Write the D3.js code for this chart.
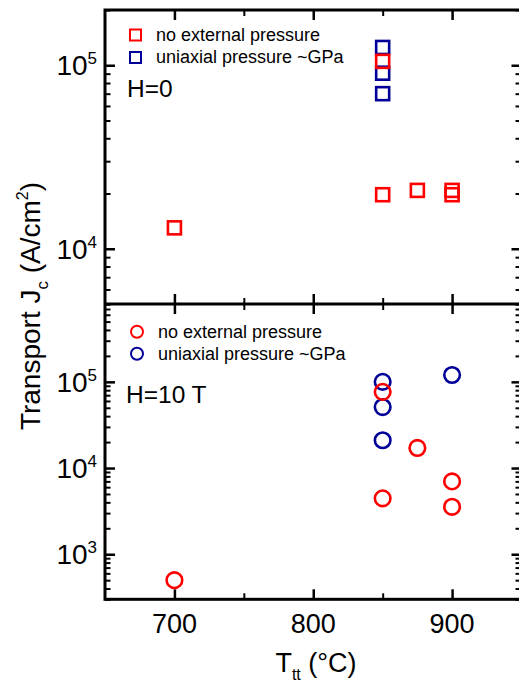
<!DOCTYPE html>
<html>
<head>
<meta charset="utf-8">
<script src="https://cdn.jsdelivr.net/npm/d3@7"></script>
<style>
  body { margin: 0; background: #fff; }
  svg { display: block; font-family: "Liberation Sans", Arial, sans-serif; }
</style>
</head>
<body>
<svg id="chart" width="519" height="684"></svg>
<script>
// annealing temperature (°C) and transport Jc (A/cm^2)
const zeroFieldNoPressT = [700, 850, 850, 875, 900, 900];
const zeroFieldNoPressJ = [13000, 19700, 105000, 20800, 20800, 19700];
const zeroFieldPressT = [850, 850, 850];
const zeroFieldPressJ = [125000, 90500, 70000];

const highFieldNoPressT = [700, 850, 850, 875, 900, 900];
const highFieldNoPressJ = [500, 76600, 4450, 17100, 7000, 3550];
const highFieldPressT = [850, 850, 850, 900];
const highFieldPressJ = [100000, 51000, 21000, 120000];

const xTickLabels = [700, 800, 900];
const xMinorTicks = [750, 850];
const legendLabels = ['no external pressure', 'uniaxial pressure ~GPa'];
const fieldLabels = ['H=0', 'H=10 T'];

const red = '#ff0000', blue = '#000099';
const pLeft = 105, pRight = 521.5, pTop = 10, pMid = 304, pBottom = 599.3;

const svg = d3.select('#chart');

const xScale = d3.scaleLinear().domain([650, 950]).range([pLeft, pRight]);
const yTop = d3.scaleLog().domain([5000, 200000]).range([pMid, pTop]);
const yBot = d3.scaleLog().domain([300, 800000]).range([pBottom, pMid]);

const isPow10 = d => Math.abs(Math.log10(d) - Math.round(Math.log10(d))) < 1e-9;

function tickGroup(axis, scale, values, size, tx, ty, sw) {
  const g = svg.append('g')
    .attr('transform', `translate(${tx},${ty})`)
    .call(axis(scale).tickValues(values).tickSize(size).tickFormat(''));
  g.select('.domain').remove();
  g.selectAll('.tick line').attr('stroke', '#000').attr('stroke-width', sw);
  g.selectAll('.tick text').remove();
}

// y ticks, both panels, left side pointing in and right side pointing in
[yTop, yBot].forEach(y => {
  const all = y.ticks();
  const major = all.filter(isPow10);
  const minor = all.filter(d => !isPow10(d));
  tickGroup(d3.axisRight, y, major, 10, pLeft, 0, 2.5);
  tickGroup(d3.axisRight, y, minor, 5.5, pLeft, 0, 2);
  tickGroup(d3.axisLeft, y, major, 10, pRight, 0, 2.5);
  tickGroup(d3.axisLeft, y, minor, 6, pRight, 0, 2);
});

// x ticks: top border down, divider both ways, bottom border up
tickGroup(d3.axisBottom, xScale, xTickLabels, 10, 0, pTop, 2.5);
tickGroup(d3.axisBottom, xScale, xMinorTicks, 6, 0, pTop, 2);
tickGroup(d3.axisBottom, xScale, xTickLabels, 10, 0, pMid, 2.5);
tickGroup(d3.axisBottom, xScale, xMinorTicks, 6, 0, pMid, 2);
tickGroup(d3.axisTop, xScale, xTickLabels, 10, 0, pMid, 2.5);
tickGroup(d3.axisTop, xScale, xMinorTicks, 6, 0, pMid, 2);
tickGroup(d3.axisTop, xScale, xTickLabels, 10, 0, pBottom, 2.5);
tickGroup(d3.axisTop, xScale, xMinorTicks, 6, 0, pBottom, 2);

// frame
svg.append('rect')
  .attr('x', pLeft).attr('y', pTop)
  .attr('width', pRight - pLeft).attr('height', pBottom - pTop)
  .attr('fill', 'none').attr('stroke', '#000').attr('stroke-width', 3);
svg.append('line')
  .attr('x1', pLeft).attr('x2', pRight).attr('y1', pMid).attr('y2', pMid)
  .attr('stroke', '#000').attr('stroke-width', 3);

// y tick labels 10^n
[[yTop, [10000, 100000]], [yBot, [1000, 10000, 100000]]].forEach(([y, vals]) => {
  vals.forEach(v => {
    const t = svg.append('text')
      .attr('x', 97).attr('y', y(v) + 10)
      .attr('text-anchor', 'end')
      .attr('font-size', 28);
    t.append('tspan').text('10');
    t.append('tspan').attr('font-size', 17).attr('dy', -11).text(Math.round(Math.log10(v)));
  });
});

// x tick labels
svg.selectAll('.xlab')
  .data(xTickLabels)
  .join('text')
    .attr('x', d => xScale(d))
    .attr('y', 633)
    .attr('text-anchor', 'middle')
    .attr('font-size', 27)
    .text(d => d);

// axis titles
const xt = svg.append('text')
  .attr('x', 316).attr('y', 671.5)
  .attr('text-anchor', 'middle')
  .attr('font-size', 27);
xt.append('tspan').text('T');
xt.append('tspan').attr('font-size', 16).attr('dy', 8).text('tt');
xt.append('tspan').attr('dy', -8).text(' (°C)');

const yt = svg.append('text')
  .attr('transform', 'translate(40,306) rotate(-90)')
  .attr('text-anchor', 'middle')
  .attr('font-size', 28);
yt.append('tspan').text('Transport J');
yt.append('tspan').attr('font-size', 17).attr('dy', 8).text('c');
yt.append('tspan').attr('dy', -8).text(' (A/cm');
yt.append('tspan').attr('font-size', 16).attr('dy', -12).text('2');
yt.append('tspan').attr('dy', 12).text(')');

// markers
const sq = 13;
function squares(xs, ys, color) {
  svg.append('g').selectAll('rect')
    .data(xs.map((t, i) => [t, ys[i]]))
    .join('rect')
      .attr('x', d => xScale(d[0]) - sq / 2)
      .attr('y', d => yTop(d[1]) - sq / 2)
      .attr('width', sq).attr('height', sq)
      .attr('fill', 'none').attr('stroke', color).attr('stroke-width', 2.6);
}
function circles(xs, ys, color) {
  svg.append('g').selectAll('circle')
    .data(xs.map((t, i) => [t, ys[i]]))
    .join('circle')
      .attr('cx', d => xScale(d[0]))
      .attr('cy', d => yBot(d[1]))
      .attr('r', 7.8)
      .attr('fill', 'none').attr('stroke', color).attr('stroke-width', 2.6);
}
squares(zeroFieldPressT, zeroFieldPressJ, blue);
squares(zeroFieldNoPressT, zeroFieldNoPressJ, red);
circles(highFieldPressT, highFieldPressJ, blue);
circles(highFieldNoPressT, highFieldNoPressJ, red);

// legends
[red, blue].forEach((c, i) => {
  svg.append('rect')
    .attr('x', 135.5 - 5.5).attr('y', 35 + i * 22.5 - 5.5)
    .attr('width', 11).attr('height', 11)
    .attr('fill', 'none').attr('stroke', c).attr('stroke-width', 2);
  svg.append('text')
    .attr('x', 156).attr('y', 40.5 + i * 22.5)
    .attr('font-size', 18).text(legendLabels[i]);
  svg.append('circle')
    .attr('cx', 137).attr('cy', 331.7 + i * 22).attr('r', 6)
    .attr('fill', 'none').attr('stroke', c).attr('stroke-width', 2);
  svg.append('text')
    .attr('x', 158).attr('y', 337.5 + i * 22)
    .attr('font-size', 18).text(legendLabels[i]);
});

svg.append('text').attr('x', 127).attr('y', 96.5).attr('font-size', 24.5).text(fieldLabels[0]);
svg.append('text').attr('x', 126).attr('y', 403).attr('font-size', 24.5).text(fieldLabels[1]);
</script>
</body>
</html>
